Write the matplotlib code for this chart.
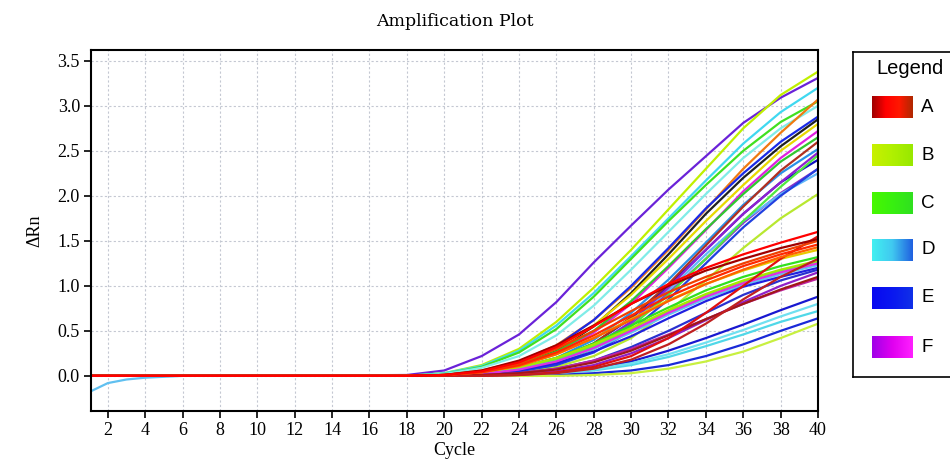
import numpy as np
import matplotlib
matplotlib.use('Agg')
import matplotlib.pyplot as plt

# ----------------------------------------------------------------------------
# data (delta Rn per cycle)
cycles = [1, 10, 18, 20, 22, 24, 26, 28, 30, 32, 34, 36, 38, 40]

# curves that reach a high plateau (2.0 - 3.4)
high_curves = [
    [0, 0, 0.01, 0.06, 0.22, 0.46, 0.82, 1.26, 1.67, 2.07, 2.44, 2.81, 3.09, 3.31],
    [0, 0, 0.00, 0.03, 0.12, 0.30, 0.60, 0.98, 1.40, 1.85, 2.30, 2.75, 3.12, 3.38],
    [0, 0, 0.00, 0.03, 0.11, 0.28, 0.56, 0.92, 1.33, 1.75, 2.17, 2.58, 2.93, 3.20],
    [0, 0, 0.00, 0.02, 0.10, 0.26, 0.52, 0.88, 1.30, 1.72, 2.12, 2.50, 2.82, 3.05],
    [0, 0, 0.00, 0.02, 0.09, 0.22, 0.45, 0.78, 1.18, 1.60, 2.02, 2.42, 2.75, 3.00],
    [0, 0, 0.00, 0.01, 0.06, 0.16, 0.34, 0.62, 0.98, 1.40, 1.85, 2.30, 2.70, 3.07],
    [0, 0, 0.00, 0.01, 0.05, 0.15, 0.33, 0.62, 1.00, 1.42, 1.86, 2.25, 2.60, 2.88],
    [0, 0, 0.00, 0.01, 0.04, 0.12, 0.28, 0.55, 0.92, 1.35, 1.80, 2.20, 2.55, 2.85],
    [0, 0, 0.00, 0.01, 0.05, 0.14, 0.30, 0.56, 0.90, 1.30, 1.72, 2.12, 2.50, 2.80],
    [0, 0, 0.00, 0.01, 0.04, 0.11, 0.25, 0.48, 0.80, 1.20, 1.62, 2.05, 2.42, 2.72],
    [0, 0, 0.00, 0.01, 0.04, 0.12, 0.27, 0.50, 0.83, 1.22, 1.63, 2.02, 2.38, 2.65],
    [0, 0, 0.00, 0.00, 0.03, 0.09, 0.20, 0.40, 0.70, 1.07, 1.48, 1.90, 2.25, 2.52],
    [0, 0, 0.00, 0.00, 0.03, 0.08, 0.18, 0.36, 0.64, 1.00, 1.40, 1.80, 2.15, 2.40],
    [0, 0, 0.00, 0.00, 0.02, 0.07, 0.16, 0.32, 0.58, 0.92, 1.30, 1.70, 2.03, 2.30],
    [0, 0, 0.00, 0.00, 0.02, 0.07, 0.16, 0.33, 0.60, 0.95, 1.35, 1.72, 2.02, 2.25],
    [0, 0, 0.00, 0.00, 0.01, 0.04, 0.10, 0.22, 0.42, 0.72, 1.06, 1.42, 1.75, 2.02],
    [0, 0, 0.00, 0.00, 0.02, 0.06, 0.14, 0.30, 0.55, 0.90, 1.30, 1.72, 2.10, 2.45],
    [0, 0, 0.00, 0.00, 0.02, 0.07, 0.17, 0.36, 0.65, 1.02, 1.45, 1.88, 2.28, 2.60],
    [0, 0, 0.00, 0.00, 0.02, 0.06, 0.15, 0.32, 0.60, 0.98, 1.40, 1.80, 2.15, 2.48],
    [0, 0, 0.00, 0.00, 0.01, 0.05, 0.12, 0.26, 0.50, 0.85, 1.25, 1.65, 2.00, 2.30],
]
high_colors = ['#6a22d8', '#c0f000', '#40d8f0', '#40e020', '#80ece8', '#f07a10',
               '#1a2ae8', '#202020', '#e8d800', '#e020e0', '#30c830', '#2a90e8',
               '#1010c0', '#8a30c8', '#60b8f8', '#b8e830', '#50e840', '#b03020',
               '#9020d0', '#2040e0']

# curves that reach a low plateau (0.6 - 1.6)
low_curves = [
    [0, 0, 0.00, 0.01, 0.03, 0.09, 0.20, 0.36, 0.56, 0.76, 0.95, 1.10, 1.22, 1.32],
    [0, 0, 0.00, 0.00, 0.03, 0.08, 0.18, 0.33, 0.52, 0.72, 0.90, 1.05, 1.17, 1.27],
    [0, 0, 0.00, 0.00, 0.03, 0.09, 0.20, 0.35, 0.53, 0.73, 0.91, 1.06, 1.18, 1.28],
    [0, 0, 0.00, 0.00, 0.02, 0.07, 0.16, 0.30, 0.48, 0.68, 0.86, 1.01, 1.13, 1.23],
    [0, 0, 0.00, 0.00, 0.02, 0.06, 0.14, 0.27, 0.44, 0.64, 0.83, 0.99, 1.10, 1.20],
    [0, 0, 0.00, 0.00, 0.02, 0.07, 0.16, 0.31, 0.50, 0.70, 0.88, 1.03, 1.15, 1.25],
    [0, 0, 0.00, 0.00, 0.01, 0.03, 0.08, 0.17, 0.32, 0.50, 0.70, 0.90, 1.06, 1.18],
    [0, 0, 0.00, 0.00, 0.00, 0.02, 0.05, 0.12, 0.25, 0.42, 0.62, 0.82, 1.00, 1.15],
    [0, 0, 0.00, 0.00, 0.00, 0.01, 0.03, 0.08, 0.16, 0.28, 0.42, 0.57, 0.73, 0.88],
    [0, 0, 0.00, 0.00, 0.00, 0.01, 0.03, 0.06, 0.12, 0.21, 0.33, 0.46, 0.60, 0.72],
    [0, 0, 0.00, 0.00, 0.00, 0.00, 0.01, 0.03, 0.06, 0.12, 0.22, 0.35, 0.50, 0.64],
    [0, 0, 0.00, 0.00, 0.00, 0.00, 0.00, 0.01, 0.03, 0.08, 0.16, 0.27, 0.42, 0.58],
    [0, 0, 0.00, 0.00, 0.00, 0.01, 0.03, 0.07, 0.14, 0.24, 0.37, 0.51, 0.66, 0.80],
    [0, 0, 0.00, 0.00, 0.01, 0.03, 0.08, 0.17, 0.30, 0.46, 0.63, 0.80, 0.95, 1.08],
    [0, 0, 0.00, 0.00, 0.01, 0.03, 0.07, 0.15, 0.28, 0.45, 0.63, 0.80, 0.96, 1.10],
    [0, 0, 0.00, 0.01, 0.04, 0.11, 0.24, 0.42, 0.63, 0.84, 1.02, 1.17, 1.30, 1.40],
    [0, 0, 0.00, 0.00, 0.00, 0.01, 0.04, 0.10, 0.22, 0.42, 0.70, 1.00, 1.30, 1.55],
    [0, 0, 0.00, 0.00, 0.00, 0.01, 0.03, 0.08, 0.18, 0.35, 0.58, 0.85, 1.10, 1.30],
    [0, 0, 0.00, 0.01, 0.04, 0.11, 0.24, 0.42, 0.62, 0.83, 1.02, 1.18, 1.32, 1.43],
    [0, 0, 0.00, 0.01, 0.04, 0.12, 0.26, 0.45, 0.67, 0.88, 1.06, 1.22, 1.35, 1.46],
    [0, 0, 0.00, 0.01, 0.05, 0.14, 0.30, 0.50, 0.72, 0.93, 1.10, 1.25, 1.38, 1.50],
    [0, 0, 0.00, 0.01, 0.06, 0.17, 0.34, 0.56, 0.80, 1.00, 1.17, 1.30, 1.42, 1.52],
    [0, 0, 0.00, 0.01, 0.05, 0.15, 0.32, 0.55, 0.80, 1.02, 1.20, 1.35, 1.48, 1.60],
]
low_colors = ['#30e020', '#60f040', '#a8e800', '#60c8f0', '#2020e0', '#e030e0',
              '#2a30d0', '#9020c8', '#1818d0', '#50d8e8', '#1a2ad8', '#c8f040',
              '#70e0f0', '#c020a0', '#a01818', '#e8c800', '#e01010', '#c02020',
              '#ff6000', '#ff2800', '#f04000', '#a00000', '#ff0000']

# the one well that starts below zero
neg_cycles = [1, 2, 3, 4, 5, 6, 8]
neg_values = [-0.18, -0.08, -0.04, -0.02, -0.01, 0.0, 0.0]

xticks = list(range(2, 41, 2))
yticks = [0.0, 0.5, 1.0, 1.5, 2.0, 2.5, 3.0, 3.5]

legend_names = ['A', 'B', 'C', 'D', 'E', 'F']
legend_swatch = [['#a00000', '#ff0000', '#ff1800', '#b02800'],
                 ['#c8f000', '#b0f000', '#98e800'],
                 ['#48f800', '#38f010', '#30e020'],
                 ['#40f0f0', '#40c8f0', '#2060e0'],
                 ['#0808f0', '#0a18f0', '#1030e8'],
                 ['#a000e8', '#e000f0', '#ff20ff']]

# ----------------------------------------------------------------------------
serif = 'Liberation Serif'
fig = plt.figure(figsize=(9.5, 4.67), dpi=100)
ax = fig.add_axes([91/950, (467-411)/467, (818-91)/950, (411-50)/467])

for ys, c in zip(high_curves, high_colors):
    ax.plot(cycles, ys, color=c, lw=1.6, solid_capstyle='round', solid_joinstyle='round')
ax.plot(neg_cycles, neg_values, color='#60c0f0', lw=1.6)
for ys, c in zip(low_curves, low_colors):
    ax.plot(cycles, ys, color=c, lw=1.6, solid_capstyle='round', solid_joinstyle='round')

ax.set_xlim(1.1, 40)
ax.set_ylim(-0.39, 3.62)
ax.set_xticks(xticks)
ax.set_yticks(yticks)
ax.set_xticklabels([str(t) for t in xticks], fontfamily=serif, fontsize=13)
ax.set_yticklabels(['%.1f' % t for t in yticks], fontfamily=serif, fontsize=13)
ax.tick_params(direction='out', length=5, width=1.2, pad=3)
ax.grid(True, color='#c4c8d2', linestyle=(0, (2, 2)), linewidth=0.8)
ax.set_axisbelow(True)
for s in ax.spines.values():
    s.set_linewidth(1.5)
ax.set_title('Amplification Plot', fontfamily='DejaVu Serif', fontsize=12.5, pad=17)
ax.set_xlabel('Cycle', fontfamily=serif, fontsize=13, labelpad=2)
ax.set_ylabel('\u0394Rn', fontfamily=serif, fontsize=13, labelpad=10)

# ----------------------------------------------------------------------------
# legend panel drawn in pixel coordinates
lg = fig.add_axes([853/950, (467-377)/467, 97/950, (377-52)/467])
lg.set_xlim(853, 950)
lg.set_ylim(377, 52)
lg.set_xticks([])
lg.set_yticks([])
lg.spines['right'].set_visible(False)
for s in ['left', 'top', 'bottom']:
    lg.spines[s].set_linewidth(1.2)
lg.text(910, 68, 'Legend', fontfamily='Liberation Sans', fontsize=14.5,
        ha='center', va='center')
row_y = [107, 155, 203, 250, 298, 347]
for name, cols, yc in zip(legend_names, legend_swatch, row_y):
    cmap = matplotlib.colors.LinearSegmentedColormap.from_list(name, cols)
    grad = np.linspace(0, 1, 64).reshape(1, -1)
    lg.imshow(grad, cmap=cmap, aspect='auto',
              extent=(872, 913, yc + 11, yc - 11), interpolation='bilinear')
    lg.text(921, yc, name, fontfamily='Liberation Sans', fontsize=13.5,
            ha='left', va='center')
lg.set_xlim(853, 950)
lg.set_ylim(377, 52)

fig.savefig('out.png', dpi=100)
